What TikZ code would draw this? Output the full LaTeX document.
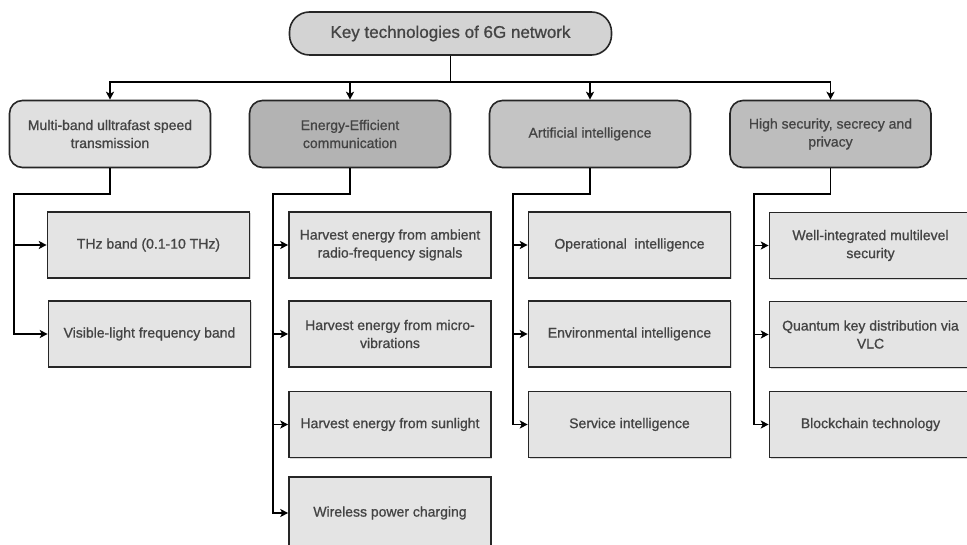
\documentclass[tikz,border=0pt]{standalone}
\usepackage{fontspec}
\setmainfont{Liberation Sans}[BoldFont=Liberation Sans, BoldFeatures={FakeBold=0.9}]
\usetikzlibrary{arrows.meta,shadows}
\definecolor{txt}{HTML}{444444}
\definecolor{edge}{HTML}{262626}
\definecolor{rootfill}{HTML}{D3D3D3}
\definecolor{cA}{HTML}{E0E0E0}
\definecolor{cB}{HTML}{B3B3B3}
\definecolor{cC}{HTML}{C4C4C4}
\definecolor{cD}{HTML}{BDBDBD}
\definecolor{leaffill}{HTML}{E4E4E4}
\tikzset{
  rootbox/.style={draw=edge, line width=1.6pt, fill=rootfill, rounded corners=20pt,
    minimum width=322pt, minimum height=43pt, text=txt, inner sep=0pt,
    font=\fontsize{17}{20}\selectfont\bfseries},
  catbox/.style={draw=edge, line width=1.6pt, rounded corners=13pt,
    minimum width=201pt, minimum height=67pt, text=txt, inner sep=0pt,
    align=center, font=\fontsize{14}{18}\selectfont\bfseries},
  leafbox/.style={draw=edge, line width=1.6pt, fill=leaffill,
    minimum width=202pt, minimum height=66pt, text=txt, inner sep=0pt,
    align=center, font=\fontsize{14}{18}\selectfont\bfseries,
    drop shadow={shadow xshift=1.2pt, shadow yshift=-1.2pt, fill=black!25, opacity=0.6}},
  conn/.style={draw=black, line width=1.6pt},
  arr/.style={conn, -{Stealth[length=8pt,width=8pt,inset=2pt]}}
}
\begin{document}
\begin{tikzpicture}[x=1pt,y=-1pt]
\useasboundingbox (0,0) rectangle (967,545);
\clip (0,0) rectangle (967,545);
\fill[white] (0,0) rectangle (967,545);

\node[rootbox] (root) at (450.5,33.5) {Key technologies of 6G network};

\node[catbox, fill=cA] (c1) at (110,134) {Multi-band ulltrafast speed\\transmission};
\node[catbox, fill=cB] (c2) at (350,134) {Energy-Efficient\\communication};
\node[catbox, fill=cC] (c3) at (590,134) {Artificial intelligence};
\node[catbox, fill=cD] (c4) at (830.5,134) {High security, secrecy and\\privacy};

\coordinate (bus) at (450.5,82);
\foreach \c in {c1,c2,c3,c4}{
  \draw[arr] (root.south) -- (bus) -| (\c.north);
}

% group 1
\node[leafbox] (l11) at (148.5,245) {THz band (0.1-10 THz)};
\node[leafbox] (l12) at (149.5,334) {Visible-light frequency band};
% group 2
\node[leafbox] (l21) at (390,245) {Harvest energy from ambient\\radio-frequency signals};
\node[leafbox] (l22) at (390,334) {Harvest energy from micro-\\vibrations};
\node[leafbox] (l23) at (390,424.5) {Harvest energy from sunlight};
\node[leafbox, minimum height=72pt] (l24) at (390,513) {Wireless power charging};
% group 3
\node[leafbox] (l31) at (629.5,245) {Operational\ \ intelligence};
\node[leafbox] (l32) at (629.5,334) {Environmental intelligence};
\node[leafbox] (l33) at (629.5,424.5) {Service intelligence};
% group 4
\node[leafbox] (l41) at (870.5,245.5) {Well-integrated multilevel\\security};
\node[leafbox] (l42) at (870.5,334.5) {Quantum key distribution via\\VLC};
\node[leafbox] (l43) at (870.5,424.5) {Blockchain technology};

\coordinate (b1) at (14,194);
\coordinate (b2) at (273,194);
\coordinate (b3) at (513,194);
\coordinate (b4) at (754,194);

\foreach \l in {l11,l12}{\draw[arr] (c1.south) |- (b1) |- (\l.west);}
\foreach \l in {l21,l22,l23,l24}{\draw[arr] (c2.south) |- (b2) |- (\l.west);}
\foreach \l in {l31,l32,l33}{\draw[arr] (c3.south) |- (b3) |- (\l.west);}
\foreach \l in {l41,l42,l43}{\draw[arr] (c4.south) |- (b4) |- (\l.west);}
\end{tikzpicture}
\end{document}
